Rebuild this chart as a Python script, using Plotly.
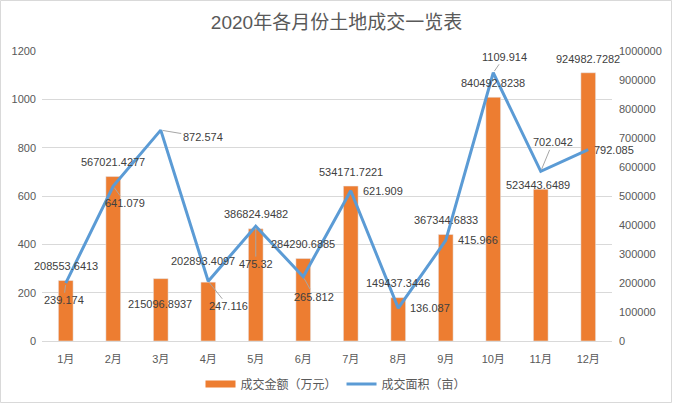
import plotly.graph_objects as go

months = ["1月", "2月", "3月", "4月", "5月", "6月", "7月", "8月", "9月", "10月", "11月", "12月"]
amount = [208553.6413, 567021.4277, 215096.8937, 202893.4097, 386824.9482, 284290.6885,
          534171.7221, 149437.3446, 367344.6833, 840492.8238, 523443.6489, 924982.7282]
area = [239.174, 641.079, 872.574, 247.116, 475.32, 265.812,
        621.909, 136.087, 415.966, 1109.914, 702.042, 792.085]
amount_labels = ["208553.6413", "567021.4277", "215096.8937", "202893.4097", "386824.9482", "284290.6885",
                 "534171.7221", "149437.3446", "367344.6833", "840492.8238", "523443.6489", "924982.7282"]
area_labels = ["239.174", "641.079", "872.574", "247.116", "475.32", "265.812",
               "621.909", "136.087", "415.966", "1109.914", "702.042", "792.085"]

# label placement (pixel offsets, screen: +x right, +y down)
bar_off = [(0, -15), (0, -15), (-1, 25), (-5, -21), (0, -15), (0, -15),
           (0, -14), (0, -15), (0, -14), (0, -14), (-3, -4), (0, -14)]
line_off = [(-2, 17), (12, 17), (42, 7), (20, 25), (0, 38), (11, 20),
            (32, 0), (32, 0), (32, 0), (11, -16), (12, -29), (26, 0)]
line_leader = [True, True, True, True, True, True, False, False, False, True, True, False]

W, H = 673, 404
ML, MR, MT, MB = 42, 61, 51, 63
FONT = "Liberation Sans, Noto Sans CJK SC, sans-serif"
TXT = "#595959"
LBL = "#404040"
GRID = "#d9d9d9"
ORANGE = "#ED7D31"
BLUE = "#5B9BD5"

fig = go.Figure()
fig.add_trace(go.Bar(x=months, y=amount, name="成交金额（万元）", marker_color=ORANGE,
                     width=0.31, yaxis="y", hoverinfo="skip", showlegend=False))
fig.add_trace(go.Scatter(x=[None], y=[None], name="成交金额（万元）", mode="lines",
                         line=dict(color=ORANGE, width=7), yaxis="y", hoverinfo="skip"))
fig.add_trace(go.Scatter(x=months, y=area, name="成交面积（亩）", mode="lines",
                         line=dict(color=BLUE, width=3), yaxis="y2", hoverinfo="skip"))

ann = []
for m, v, t, (dx, dy) in zip(months, amount, amount_labels, bar_off):
    ann.append(dict(x=m, y=v, xref="x", yref="y", text=t, showarrow=False,
                    xshift=dx, yshift=-dy, font=dict(size=11, color=LBL, family=FONT)))
for m, v, t, (dx, dy), ld in zip(months, area, area_labels, line_off, line_leader):
    if ld:
        ann.append(dict(x=m, y=v, xref="x", yref="y2", text=t, showarrow=True,
                        arrowhead=0, arrowwidth=1, arrowcolor="#a6a6a6", ax=dx, ay=dy,
                        standoff=2, font=dict(size=11, color=LBL, family=FONT)))
    else:
        ann.append(dict(x=m, y=v, xref="x", yref="y2", text=t, showarrow=False,
                        xshift=dx, yshift=-dy, font=dict(size=11, color=LBL, family=FONT)))

pw, ph = W - ML - MR, H - MT - MB
fig.add_shape(type="rect", xref="paper", yref="paper",
              x0=-(ML - 0.5) / pw, x1=1 + (MR - 1.5) / pw,
              y0=-(MB - 1.5) / ph, y1=1 + (MT - 0.5) / ph,
              line=dict(color=GRID, width=1), fillcolor="rgba(0,0,0,0)", layer="below")

fig.update_layout(
    width=W, height=H,
    margin=dict(l=ML, r=MR, t=MT, b=MB, autoexpand=False),
    paper_bgcolor="white", plot_bgcolor="white",
    font=dict(family=FONT, size=11, color=TXT),
    title=dict(text="2020年各月份土地成交一览表", x=0.5, xanchor="center", y=1 - 22 / H,
               yanchor="middle", yref="container", font=dict(size=19, color=TXT, family=FONT)),
    xaxis=dict(type="category", range=[-0.5, len(months) - 0.5], showgrid=False, showline=True,
               linecolor=GRID, linewidth=1, ticks="", ticklabelstandoff=8,
               tickfont=dict(size=11, color=TXT)),
    yaxis=dict(side="right", range=[0, 1000000], dtick=100000, showgrid=False, zeroline=False,
               showline=False, ticks="", tickformat="d", ticklabelstandoff=6,
               tickfont=dict(size=11, color=TXT)),
    yaxis2=dict(side="left", overlaying="y", range=[0, 1200], dtick=200, showgrid=True,
                gridcolor=GRID, gridwidth=1, zeroline=False, showline=False, ticks="",
                ticklabelstandoff=5, tickfont=dict(size=11, color=TXT)),
    showlegend=True,
    legend=dict(orientation="h", x=0.5 + 9 / pw, xanchor="center", y=-43 / ph, yanchor="middle",
                font=dict(size=12, color=TXT), bgcolor="rgba(0,0,0,0)", itemwidth=30,
                tracegroupgap=0),
    annotations=ann,
)

fig.write_html("out.html")
